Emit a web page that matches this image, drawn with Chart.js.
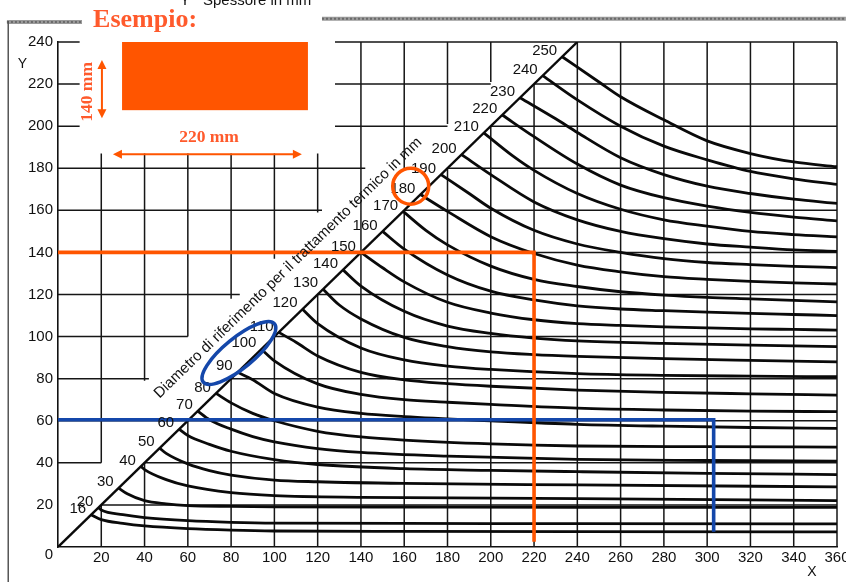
<!DOCTYPE html>
<html>
<head>
<meta charset="utf-8">
<script src="https://cdn.jsdelivr.net/npm/chart.js@4.4.0/dist/chart.umd.min.js"></script>
<style>
html,body{margin:0;padding:0;background:#fff}
canvas{display:block}
</style>
</head>
<body>
<canvas id="c" width="846" height="582"></canvas>
<script>
// Diametro di riferimento (mm) of each curve
const diameters = [16,20,30,40,50,60,70,80,90,100,110,120,130,140,150,160,170,180,190,200,210,220,230,240,250];

// Each curve: [X larghezza mm, Y spessore mm], first point lies on the diagonal
const d16  = [[15.3,15.3],[20,13],[30,11.2],[40,10],[60,8.7],[80,8],[100,7.6],[160,7.4],[240,7.3],[360,7.2]];
const d20  = [[18.7,18.7],[20,17.6],[30,15.4],[40,14],[60,12.5],[80,11.7],[100,11.3],[160,11.2],[240,11.1],[360,11]];
const d30  = [[28,28],[32,25.3],[40,22],[50,20.5],[60,19.7],[80,19.3],[100,19.1],[160,19],[240,18.9],[360,18.8]];
const d40  = [[38.3,38.3],[40,36.8],[50,32],[60,29],[80,25.8],[100,24.4],[140,23.6],[240,23],[360,22]];
const d50  = [[47,47],[50,44.5],[60,39.5],[70,36.3],[80,34.2],[100,31.8],[120,31],[160,30.2],[240,29.5],[360,28.6]];
const d60  = [[56,56],[60,53],[70,48.8],[80,45.5],[100,41.5],[120,39.2],[160,37.2],[200,36.4],[240,35.8],[300,35],[360,34.4]];
const d70  = [[64.6,64.6],[70,60.5],[80,56],[90,52.5],[100,50],[120,46.8],[140,45],[180,43.2],[240,41.6],[300,41.1],[360,40.8]];
const d80  = [[73,73],[80,68.5],[90,63.5],[100,60],[120,55],[140,52.3],[160,50.8],[200,49],[240,48],[300,47.7],[360,47.5]];
const d90  = [[83,83],[90,79.5],[100,73],[120,66.5],[140,63.5],[160,62],[200,60],[240,58.3],[280,57.4],[320,56.8],[360,56.4]];
const d100 = [[94,94],[100,88.5],[120,77.5],[140,72.5],[160,70],[180,68.8],[200,67.8],[240,66],[280,65.1],[320,64.6],[360,64.3]];
const d110 = [[102,102],[110,97.3],[120,90.8],[140,83],[160,79.4],[180,77.6],[200,76.4],[240,74.6],[280,73.5],[320,72.8],[360,72.2]];
const d120 = [[113,113],[120,106.2],[140,94.6],[160,88.9],[180,86],[200,84.4],[240,82.4],[280,81.6],[320,81.2],[360,80.9]];
const d130 = [[122.5,122.5],[130,115],[140,108.4],[160,99.6],[180,95.2],[200,92.7],[220,91.4],[240,90.6],[280,89.5],[320,88.7],[360,88]];
const d140 = [[131.7,131.7],[140,124],[160,112],[180,105],[200,101.5],[220,99.3],[240,98],[280,96.8],[320,95.9],[360,95.2]];
const d150 = [[140,140],[150,132.7],[160,126],[180,116.3],[200,111.2],[220,108],[240,106.2],[260,105.3],[280,104.6],[300,104.1],[320,103.7],[340,103.4],[360,103.1]];
const d160 = [[150,150],[160,141.6],[180,129.3],[200,121.6],[220,117.4],[240,114.6],[260,113.1],[280,112.3],[300,111.6],[320,111],[340,110.5],[360,110]];
const d170 = [[159.5,159.5],[170,150.5],[180,143.6],[200,133.5],[220,127.2],[240,123.8],[260,121.3],[280,119.7],[300,118.6],[320,117.9],[340,117.2],[360,116.5]];
const d180 = [[167.5,167.5],[180,159.5],[200,147.5],[220,139.5],[240,134],[260,130.8],[280,128.5],[300,127.2],[320,126.2],[340,125.5],[360,125]];
const d190 = [[177,177],[190,168],[200,161],[220,150.5],[240,144],[260,140],[280,137],[300,135.2],[320,134.2],[340,133.4],[360,132.8]];
const d200 = [[186.5,186.5],[200,177],[220,164],[240,155.5],[260,150],[280,146.5],[300,144],[320,142.5],[340,141.2],[360,140.5]];
const d210 = [[196.8,196.8],[210,186],[220,179],[240,168],[260,160.5],[280,155.5],[300,152.5],[320,150],[340,148.5],[360,147.4]];
const d220 = [[205.3,205.3],[220,195],[240,182],[260,172],[280,166],[300,162],[320,159],[340,156.8],[360,155]];
const d230 = [[213.5,213.5],[230,203.5],[240,197],[260,185],[280,177],[300,171.5],[320,168],[340,165.3],[360,163.3]];
const d240 = [[224,224],[240,212.5],[260,200],[280,190.5],[300,184],[320,178.5],[340,175],[360,172.3]];
const d250 = [[233,233],[250,221],[260,214],[280,203],[300,193],[320,187],[340,183],[360,180.7]];

const curves = [d16,d20,d30,d40,d50,d60,d70,d80,d90,d100,d110,d120,d130,d140,d150,d160,d170,d180,d190,d200,d210,d220,d230,d240,d250];

// Diagonal X = Y
const diagonal = [[0,0],[240,240]];

// Worked examples: 140 x 220 mm section (orange) and 60 x 300 mm plate (blue)
const examplePathOrange = [[0,140],[220,140],[220,2.5]];
const examplePathBlue   = [[0,60.5],[303,60.5],[303,7.3]];

// Axis ranges and tick step
const xRange = [0, 360];
const yRange = [0, 240];
const tickStep = 20;

// Grid lines drawn as segments: [value, [[from, to], ...]]
const hGrid = [
  [240, [[0,10],[128,360]]],
  [220, [[0,10],[128,200],[220,360]]],
  [200, [[0,10],[128,180],[200,360]]],
  [180, [[0,142],[180,360]]],
  [160, [[0,122],[160,360]]],
  [140, [[0,360]]],
  [120, [[0,84],[120,360]]],
  [100, [[0,60],[100,360]]],
  [80,  [[0,42],[80,360]]],
  [60,  [[0,360]]],
  [40,  [[0,20],[40,360]]],
  [20,  [[20,360]]]
];
const vGrid = [
  [20,  [[0,20],[40,187]]],
  [40,  [[0,40],[79,187]]],
  [60,  [[0,60],[100,187]]],
  [80,  [[0,80],[118,187]]],
  [100, [[0,100],[137,187]]],
  [120, [[0,120],[159,187]]],
  [140, [[0,240]]],
  [160, [[0,160],[179,240]]],
  [180, [[0,180],[201,240]]],
  [200, [[0,200],[221,240]]],
  [220, [[0,220]]],
  [240, [[0,240]]],
  [260, [[0,240]]],
  [280, [[0,240]]],
  [300, [[0,240]]],
  [320, [[0,240]]],
  [340, [[0,240]]],
  [360, [[0,240]]]
];

const ORANGE = '#ff5500';
const ORANGE_TXT = '#ff5a2c';
const BLUE = '#1447aa';
const INK = '#111111';
const SANS = '"Liberation Sans", Arial, sans-serif';
const SERIF = '"Liberation Serif", "Times New Roman", serif';

function drawArrow(ctx, x1, y1, x2, y2) {
  const ang = Math.atan2(y2 - y1, x2 - x1);
  const L = 9, W = 4.5;
  ctx.beginPath();
  ctx.moveTo(x1 + Math.cos(ang) * 4, y1 + Math.sin(ang) * 4);
  ctx.lineTo(x2 - Math.cos(ang) * 4, y2 - Math.sin(ang) * 4);
  ctx.stroke();
  const head = (x, y, a) => {
    ctx.beginPath();
    ctx.moveTo(x, y);
    ctx.lineTo(x - Math.cos(a) * L - Math.sin(a) * W, y - Math.sin(a) * L + Math.cos(a) * W);
    ctx.lineTo(x - Math.cos(a) * L + Math.sin(a) * W, y - Math.sin(a) * L - Math.cos(a) * W);
    ctx.closePath();
    ctx.fill();
  };
  head(x2, y2, ang);
  head(x1, y1, ang + Math.PI);
}

const decorations = {
  id: 'decorations',
  beforeDraw(chart) {
    const c = chart.ctx;
    c.save();
    c.fillStyle = '#fff';
    c.fillRect(0, 0, chart.width, chart.height);
    c.restore();
  },
  beforeDatasetsDraw(chart) {
    const ctx = chart.ctx, X = chart.scales.x, Y = chart.scales.y;
    ctx.save();
    ctx.strokeStyle = '#161616';
    ctx.lineWidth = 1.5;
    ctx.beginPath();
    hGrid.forEach(([v, spans]) => spans.forEach(([a, b]) => {
      const y = Y.getPixelForValue(v);
      ctx.moveTo(X.getPixelForValue(a), y);
      ctx.lineTo(X.getPixelForValue(b), y);
    }));
    vGrid.forEach(([v, spans]) => spans.forEach(([a, b]) => {
      const x = X.getPixelForValue(v);
      ctx.moveTo(x, Y.getPixelForValue(a));
      ctx.lineTo(x, Y.getPixelForValue(b));
    }));
    ctx.stroke();
    ctx.restore();
  },
  afterDatasetsDraw(chart) {
    const ctx = chart.ctx, X = chart.scales.x, Y = chart.scales.y;
    const px = v => X.getPixelForValue(v);
    const py = v => Y.getPixelForValue(v);
    ctx.save();

    // curve labels, placed just left of each curve's start on the diagonal
    ctx.fillStyle = INK;
    ctx.font = '15px ' + SANS;
    ctx.textAlign = 'right';
    ctx.textBaseline = 'middle';
    curves.forEach((c, i) => {
      ctx.fillText(String(diameters[i]), px(c[0][0]) - 5, py(c[0][1]) - 6);
    });

    // label running along the diagonal
    const ang = Math.atan2(py(240) - py(0), px(240) - px(0));
    ctx.save();
    ctx.translate(px(106.3), py(132.6));
    ctx.rotate(ang);
    ctx.textAlign = 'center';
    ctx.font = '15px ' + SANS;
    ctx.fillText('Diametro di riferimento per il trattamento termico in mm', 0, 0);
    ctx.restore();

    // axis letters and origin
    ctx.textAlign = 'center';
    ctx.font = '14px ' + SANS;
    ctx.fillText('Y', px(-16.4), py(229.6));
    ctx.fillText('X', px(348.4), py(-11.9));
    ctx.font = '15px ' + SANS;
    ctx.fillText('0', px(-4.2), py(-3.8));

    // heading cut at the top edge
    ctx.textAlign = 'left';
    ctx.textBaseline = 'alphabetic';
    ctx.font = '15px ' + SANS;
    ctx.fillText('Y', px(56.4), py(257.6));
    ctx.fillText('Spessore in mm', px(67), py(257.6));

    // scanned frame: grey band and left rule
    ctx.strokeStyle = '#9a9a9a';
    ctx.lineWidth = 4;
    ctx.beginPath();
    ctx.moveTo(px(-23.6), py(249.5)); ctx.lineTo(px(11.1), py(249.5));
    ctx.moveTo(px(122), py(251)); ctx.lineTo(px(364.1), py(251));
    ctx.stroke();
    ctx.strokeStyle = '#6a6a6a';
    ctx.lineWidth = 2;
    ctx.setLineDash([2, 2]);
    ctx.stroke();
    ctx.setLineDash([]);
    ctx.strokeStyle = '#555';
    ctx.lineWidth = 1.5;
    ctx.beginPath();
    ctx.moveTo(px(-23), py(250));
    ctx.lineTo(px(-23), py(-20));
    ctx.stroke();

    // worked example: section outline and its dimensions
    ctx.fillStyle = ORANGE;
    ctx.fillRect(px(29.6), py(240), px(115.5) - px(29.6), py(207.6) - py(240));
    ctx.strokeStyle = ORANGE;
    ctx.lineWidth = 2;
    drawArrow(ctx, px(20.3), py(231.4), px(20.3), py(203.8));
    drawArrow(ctx, px(25.4), py(186.7), px(112.7), py(186.7));

    ctx.fillStyle = ORANGE_TXT;
    ctx.font = 'bold 17.5px ' + SERIF;
    ctx.textAlign = 'center';
    ctx.textBaseline = 'middle';
    ctx.fillText('220 mm', px(69.8), py(194.6));
    ctx.save();
    ctx.translate(px(13.4), py(216.3));
    ctx.rotate(-Math.PI / 2);
    ctx.fillText('140 mm', 0, 0);
    ctx.restore();

    ctx.textAlign = 'left';
    ctx.textBaseline = 'alphabetic';
    ctx.font = 'bold 26px ' + SERIF;
    ctx.fillText('Esempio:', px(16.2), py(247.3));

    // highlighted results
    ctx.lineWidth = 3.5;
    ctx.strokeStyle = BLUE;
    ctx.beginPath();
    ctx.ellipse(px(83.6), py(92.2), 46, 15, -0.685, 0, Math.PI * 2);
    ctx.stroke();
    ctx.strokeStyle = ORANGE;
    ctx.beginPath();
    ctx.ellipse(px(163), py(171.5), 18, 18, 0, 0, Math.PI * 2);
    ctx.stroke();

    ctx.restore();
  }
};

const curveSets = curves.map((pts, i) => ({
  label: String(diameters[i]),
  data: pts,
  borderColor: '#0a0a0a',
  borderWidth: 2.8,
  pointRadius: 0,
  fill: false,
  cubicInterpolationMode: 'monotone',
  order: 2
}));

new Chart(document.getElementById('c'), {
  type: 'line',
  data: {
    datasets: [
      { label: 'esempio 140 x 220', data: examplePathOrange, borderColor: ORANGE, borderWidth: 3.6, pointRadius: 0, fill: false, order: 0 },
      { label: 'esempio 60 x 300', data: examplePathBlue, borderColor: BLUE, borderWidth: 3.6, pointRadius: 0, fill: false, order: 0 },
      { label: 'X = Y', data: diagonal, borderColor: '#0a0a0a', borderWidth: 2.4, pointRadius: 0, fill: false, order: 1 },
      ...curveSets
    ]
  },
  options: {
    responsive: false,
    animation: false,
    events: [],
    layout: { padding: { top: 42, right: 9, left: 0, bottom: 0 } },
    plugins: { legend: { display: false }, tooltip: { enabled: false } },
    scales: {
      x: {
        type: 'linear', min: xRange[0], max: xRange[1],
        ticks: { stepSize: tickStep, color: INK, padding: 2, font: { family: SANS, size: 15 },
                 callback: v => v === 0 ? '' : String(v) },
        grid: { display: false, drawTicks: false },
        border: { display: true, color: INK, width: 1.6 },
        afterFit(s) { s.height = 35; s.paddingLeft = 0; s.paddingRight = 0; }
      },
      y: {
        type: 'linear', min: yRange[0], max: yRange[1],
        ticks: { stepSize: tickStep, color: INK, padding: 5, font: { family: SANS, size: 15 },
                 callback: v => v === 0 ? '' : String(v) },
        grid: { display: false, drawTicks: false },
        border: { display: true, color: INK, width: 1.6 },
        afterFit(s) { s.width = 58; }
      }
    }
  },
  plugins: [decorations]
});
</script>
</body>
</html>
